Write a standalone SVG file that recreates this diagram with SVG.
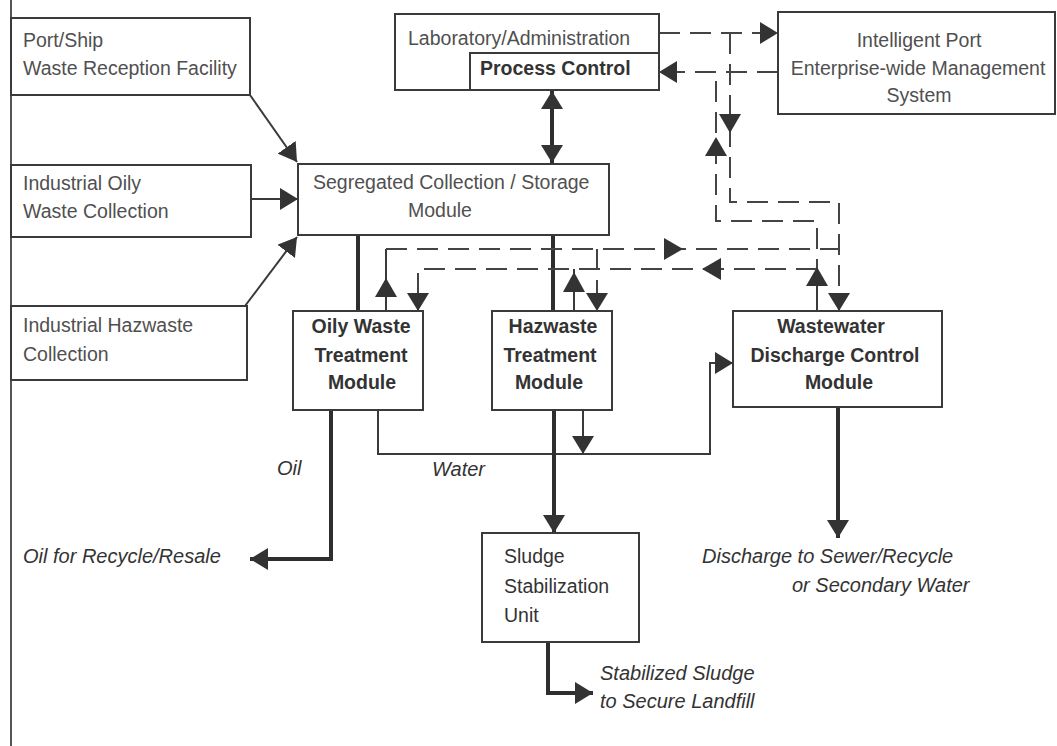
<svg xmlns="http://www.w3.org/2000/svg" width="1057" height="746" viewBox="0 0 1057 746">
<style>
.box{fill:#fff;stroke:#3a3a3a;stroke-width:2}
.t{font-family:"Liberation Sans",Arial,sans-serif;font-size:19.5px;fill:#505050}
.b{font-family:"Liberation Sans",Arial,sans-serif;font-size:19.5px;font-weight:bold;fill:#333}
.d{font-family:"Liberation Sans",Arial,sans-serif;font-size:19.5px;fill:#333}
.i{font-family:"Liberation Sans",Arial,sans-serif;font-size:20px;font-style:italic;fill:#333}
.thin{fill:none;stroke:#3a3a3a;stroke-width:2}
.thick{fill:none;stroke:#2e2e2e;stroke-width:4}
.dash{fill:none;stroke:#444;stroke-width:2;stroke-dasharray:21 10}
.ah{fill:#333;stroke:none}
</style>
<defs>
<marker id="arr" markerUnits="userSpaceOnUse" markerWidth="19" markerHeight="22" refX="18" refY="11" orient="auto-start-reverse" viewBox="0 0 19 22">
<path d="M0,0 L18,11 L0,22 z" fill="#333"/>
</marker>
</defs>
<rect width="1057" height="746" fill="#fff"/>
<line x1="11" y1="0" x2="11" y2="746" stroke="#555" stroke-width="2"/>

<g id="connectors">
<!-- solid inputs -->
<path class="thin" d="M250,95 L297,162" marker-end="url(#arr)"/>
<path class="thin" d="M251,199 H298" marker-end="url(#arr)"/>
<path class="thin" d="M245,306 L297,237" marker-end="url(#arr)"/>
<path class="thick" d="M552,91 V163" marker-start="url(#arr)" marker-end="url(#arr)"/>
<path class="thick" d="M358,235 V311"/>
<path class="thick" d="M553,235 V311"/>
<path class="thin" d="M378,410 V454 H710 V363 H733" marker-end="url(#arr)"/>
<path class="thin" d="M583,410 V454" marker-end="url(#arr)"/>
<path class="thick" d="M331,410 V559 H250" marker-end="url(#arr)"/>
<path class="thick" d="M554,410 V533" marker-end="url(#arr)"/>
<path class="thick" d="M548,642 V693 H593" marker-end="url(#arr)"/>
<path class="thick" d="M838,407 V538" marker-end="url(#arr)"/>
<!-- dashed control lines -->
<path class="dash" d="M659,33 H778" marker-end="url(#arr)"/>
<path class="dash" d="M778,72 H659" marker-end="url(#arr)"/>
<path class="dash" d="M730,33 V202 H839 V311" marker-end="url(#arr)"/>
<path class="dash" d="M817,311 V221 H716 V72"/>
<path class="dash" d="M386,249 H839"/>
<path class="thin" d="M386,311 V249"/>
<path class="dash" d="M597,249 V311" marker-end="url(#arr)"/>
<path class="dash" d="M817,269 H418 V311" marker-end="url(#arr)"/>
<path class="thin" d="M574,311 V269"/>
<path class="thin" d="M817,311 V269"/>
<!-- mid-line arrowheads -->
<polygon class="ah" points="719,114 741,114 730,133"/>
<polygon class="ah" points="705,156 727,156 716,137"/>
<polygon class="ah" points="806,286 828,286 817,267"/>
<polygon class="ah" points="375,297 397,297 386,278"/>
<polygon class="ah" points="563,292 585,292 574,272"/>
<polygon class="ah" points="664,238 664,260 683,249"/>
<polygon class="ah" points="721,258 721,280 702,269"/>
</g>

<g id="port-ship">
<rect class="box" x="11" y="18" width="239" height="77"/>
<text class="t" x="23" y="47">Port/Ship</text>
<text class="t" x="23" y="75">Waste Reception Facility</text>
</g>
<g id="industrial-oily">
<rect class="box" x="11" y="165" width="240" height="72"/>
<text class="t" x="23" y="190">Industrial Oily</text>
<text class="t" x="23" y="218">Waste Collection</text>
</g>
<g id="industrial-hazwaste">
<rect class="box" x="11" y="306" width="236" height="74"/>
<text class="t" x="23" y="332">Industrial Hazwaste</text>
<text class="t" x="23" y="361">Collection</text>
</g>
<g id="segregated">
<rect class="box" x="298" y="164" width="311" height="71"/>
<text class="t" x="313" y="189">Segregated Collection / Storage</text>
<text class="t" x="408" y="217">Module</text>
</g>
<g id="lab-admin">
<rect class="box" x="395" y="14" width="264" height="76"/>
<path class="thin" d="M470,90 V53 H659"/>
<text class="t" x="408" y="45">Laboratory/Administration</text>
<text class="b" x="480" y="75">Process Control</text>
</g>
<g id="intelligent-port">
<rect class="box" x="778" y="12" width="277" height="102"/>
<text class="t" x="919" y="47" text-anchor="middle">Intelligent Port</text>
<text class="t" x="918" y="75" text-anchor="middle">Enterprise-wide Management</text>
<text class="t" x="919" y="102" text-anchor="middle">System</text>
</g>
<g id="oily-waste">
<rect class="box" x="293" y="311" width="130" height="99"/>
<text class="b" x="361" y="333" text-anchor="middle">Oily Waste</text>
<text class="b" x="361" y="362" text-anchor="middle">Treatment</text>
<text class="b" x="362" y="389" text-anchor="middle">Module</text>
</g>
<g id="hazwaste">
<rect class="box" x="492" y="311" width="120" height="99"/>
<text class="b" x="553" y="333" text-anchor="middle">Hazwaste</text>
<text class="b" x="550" y="362" text-anchor="middle">Treatment</text>
<text class="b" x="549" y="389" text-anchor="middle">Module</text>
</g>
<g id="wastewater">
<rect class="box" x="733" y="311" width="209" height="96"/>
<text class="b" x="831" y="333" text-anchor="middle">Wastewater</text>
<text class="b" x="835" y="362" text-anchor="middle">Discharge Control</text>
<text class="b" x="839" y="389" text-anchor="middle">Module</text>
</g>
<g id="sludge">
<rect class="box" x="482" y="533" width="157" height="109"/>
<text class="d" x="504" y="563">Sludge</text>
<text class="d" x="504" y="593">Stabilization</text>
<text class="d" x="504" y="622">Unit</text>
</g>
<g id="labels">
<text class="i" x="277" y="475">Oil</text>
<text class="i" x="432" y="476">Water</text>
<text class="i" x="23" y="563">Oil for Recycle/Resale</text>
<text class="i" x="600" y="680">Stabilized Sludge</text>
<text class="i" x="600" y="708">to Secure Landfill</text>
<text class="i" x="702" y="563">Discharge to Sewer/Recycle</text>
<text class="i" x="792" y="592">or Secondary Water</text>
</g>
</svg>
